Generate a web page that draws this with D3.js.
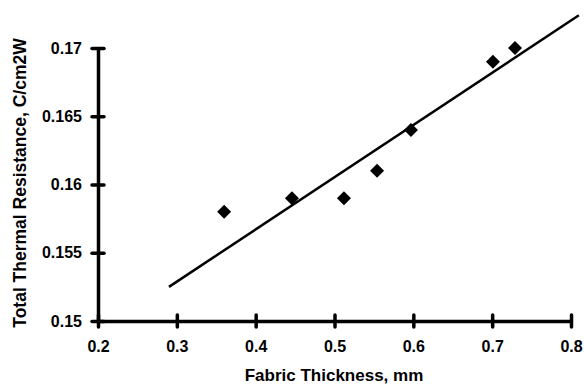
<!DOCTYPE html>
<html>
<head>
<meta charset="utf-8">
<script src="https://cdn.jsdelivr.net/npm/d3@7"></script>
<style>
  body { margin: 0; background: #fff; }
  text { font-family: "Liberation Sans", Arial, sans-serif; font-weight: bold; }
</style>
</head>
<body>
<script>
"use strict";
// data
const thickness = [0.36, 0.446, 0.512, 0.554, 0.597, 0.701, 0.729]
const resistance = [0.158, 0.159, 0.159, 0.161, 0.164, 0.169, 0.170]
// linear trend line end points
const trendX = [0.29, 0.81]
const trendY = [0.1525, 0.1724]
const xTicks = [0.2, 0.3, 0.4, 0.5, 0.6, 0.7, 0.8]
const yTicks = [0.15, 0.155, 0.16, 0.165, 0.17]

const measurements = { width: 584, height: 388 }
const plot = { left: 98, right: 571, top: 48, bottom: 321 }

const svg = d3.select("body").append("svg")
    .attr("width", measurements.width)
    .attr("height", measurements.height)

const scaleX = d3.scaleLinear().domain([0.2, 0.8]).range([plot.left, plot.right])
const scaleY = d3.scaleLinear().domain([0.15, 0.17]).range([plot.bottom, plot.top])

// axes, ticks drawn below so they cross the line
const xAxis = d3.axisBottom(scaleX).tickValues(xTicks).tickSize(0).tickPadding(20)
    .tickFormat(d3.format(".1f"))
const yAxis = d3.axisLeft(scaleY).tickValues(yTicks).tickSize(0).tickPadding(16)
    .tickFormat(d => String(+d.toFixed(3)))

const gx = svg.append("g").attr("transform", `translate(0,${plot.bottom})`).call(xAxis)
const gy = svg.append("g").attr("transform", `translate(${plot.left},0)`).call(yAxis)

;[gx, gy].forEach(g => {
    g.select(".domain").attr("stroke", "#000").attr("stroke-width", 3.5)
    g.selectAll("text").attr("fill", "#000").style("font-size", "16px")
})

gx.selectAll(".tick").append("line")
    .attr("y1", -6).attr("y2", 6)
    .attr("stroke", "#000").attr("stroke-width", 3.5).attr("stroke-linecap", "round")
gy.selectAll(".tick").append("line")
    .attr("x1", -6).attr("x2", 6)
    .attr("stroke", "#000").attr("stroke-width", 3.5).attr("stroke-linecap", "round")

// trend line
const trend = trendX.map((x, i) => [x, trendY[i]])
svg.append("path")
    .datum(trend)
    .attr("fill", "none")
    .attr("stroke", "#000")
    .attr("stroke-width", 2.5)
    .attr("d", d3.line().x(d => scaleX(d[0])).y(d => scaleY(d[1])))

// diamond markers
const points = thickness.map((x, i) => ({ x: x, y: resistance[i] }))
svg.selectAll(".pt")
    .data(points)
    .enter()
    .append("path")
    .attr("class", "pt")
    .attr("transform", d => `translate(${scaleX(d.x)},${scaleY(d.y)})`)
    .attr("d", "M0,-7L7,0L0,7L-7,0Z")
    .attr("fill", "#000")

// axis titles
svg.append("text")
    .attr("x", 334)
    .attr("y", 381)
    .attr("text-anchor", "middle")
    .style("font-size", "17px")
    .text("Fabric Thickness, mm")

svg.append("text")
    .attr("transform", "translate(26,183) rotate(-90)")
    .attr("text-anchor", "middle")
    .style("font-size", "17.5px")
    .text("Total Thermal Resistance, C/cm2W")
</script>
</body>
</html>
